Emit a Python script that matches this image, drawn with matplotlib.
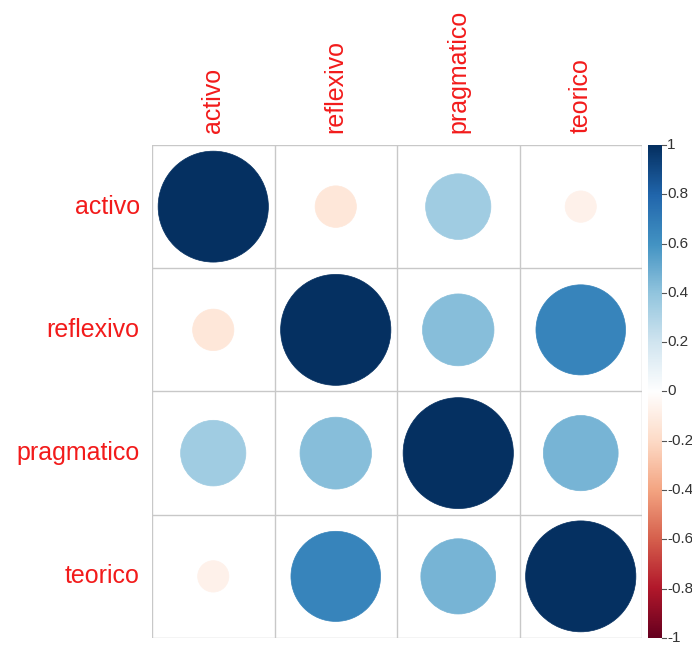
import numpy as np
import matplotlib
matplotlib.use("Agg")
import matplotlib.pyplot as plt
from matplotlib.colors import LinearSegmentedColormap
from matplotlib.patches import Ellipse

# ---------------- dados ----------------
nomes = ["activo", "reflexivo", "pragmatico", "teorico"]
activo = [1.00, -0.14, 0.35, -0.08]
reflexivo = [-0.14, 1.00, 0.42, 0.66]
pragmatico = [0.35, 0.42, 1.00, 0.46]
teorico = [-0.08, 0.66, 0.46, 1.00]
corr = np.array([activo, reflexivo, pragmatico, teorico])

cb_ticks = [1, 0.8, 0.6, 0.4, 0.2, 0, -0.2, -0.4, -0.6, -0.8, -1]

# paleta RdBu do corrplot
cores = ["#67001F", "#B2182B", "#D6604D", "#F4A582", "#FDDBC7", "#FFFFFF",
         "#D1E5F0", "#92C5DE", "#4393C3", "#2166AC", "#053061"]
cmap = LinearSegmentedColormap.from_list("corrRdBu", cores, N=200)

plt.rcParams["font.family"] = ["Liberation Sans", "DejaVu Sans"]

W, H = 692, 646
fig = plt.figure(figsize=(W / 100, H / 100), dpi=100)

# área da matriz (em pixels)
x0, x1, y0, y1 = 152, 642, 145, 638
ax = fig.add_axes([x0 / W, 1 - y1 / H, (x1 - x0) / W, (y1 - y0) / H])
n = len(nomes)
ax.set_xlim(0.5, n + 0.5)
ax.set_ylim(n + 0.5, 0.5)
ax.axis("off")

for k in range(n + 1):
    ax.plot([0.5 + k, 0.5 + k], [0.5, n + 0.5], color="#c8c8c8", lw=1, zorder=1)
    ax.plot([0.5, n + 0.5], [0.5 + k, 0.5 + k], color="#c8c8c8", lw=1, zorder=1)

for i in range(n):
    for j in range(n):
        r = corr[i, j]
        d = 2 * 0.45 * np.sqrt(abs(r))
        c = cmap((r + 1) / 2)
        ax.add_patch(Ellipse((j + 1, i + 1), d, d, facecolor=c, edgecolor=c,
                             lw=0.5, zorder=2))

# rótulos
for k, nome in enumerate(nomes):
    ax.text(0.5 - 0.1, k + 1, nome, color="#F21B1B", fontsize=18,
            ha="right", va="center")
    ax.text(k + 1, 0.5 - 0.1, nome, color="#F21B1B", fontsize=18,
            ha="center", va="bottom", rotation=90)

# barra de cores
cx0, cx1 = 648, 662
cax = fig.add_axes([cx0 / W, 1 - y1 / H, (cx1 - cx0) / W, (y1 - y0) / H])
grad = np.linspace(1, -1, 200).reshape(-1, 1)
cax.imshow(grad, aspect="auto", cmap=cmap, vmin=-1, vmax=1,
           extent=[0, 1, -1, 1])
cax.set_xlim(0, 1)
cax.set_ylim(-1, 1)
cax.axis("off")
for t in cb_ticks:
    cax.plot([1.0, 1.3], [t, t], color="#555555", lw=0.8, clip_on=False)
    cax.text(1.35, t, f"{t:g}", fontsize=11, color="#333333",
             ha="left", va="center", clip_on=False)

fig.savefig("out.png", dpi=100)
